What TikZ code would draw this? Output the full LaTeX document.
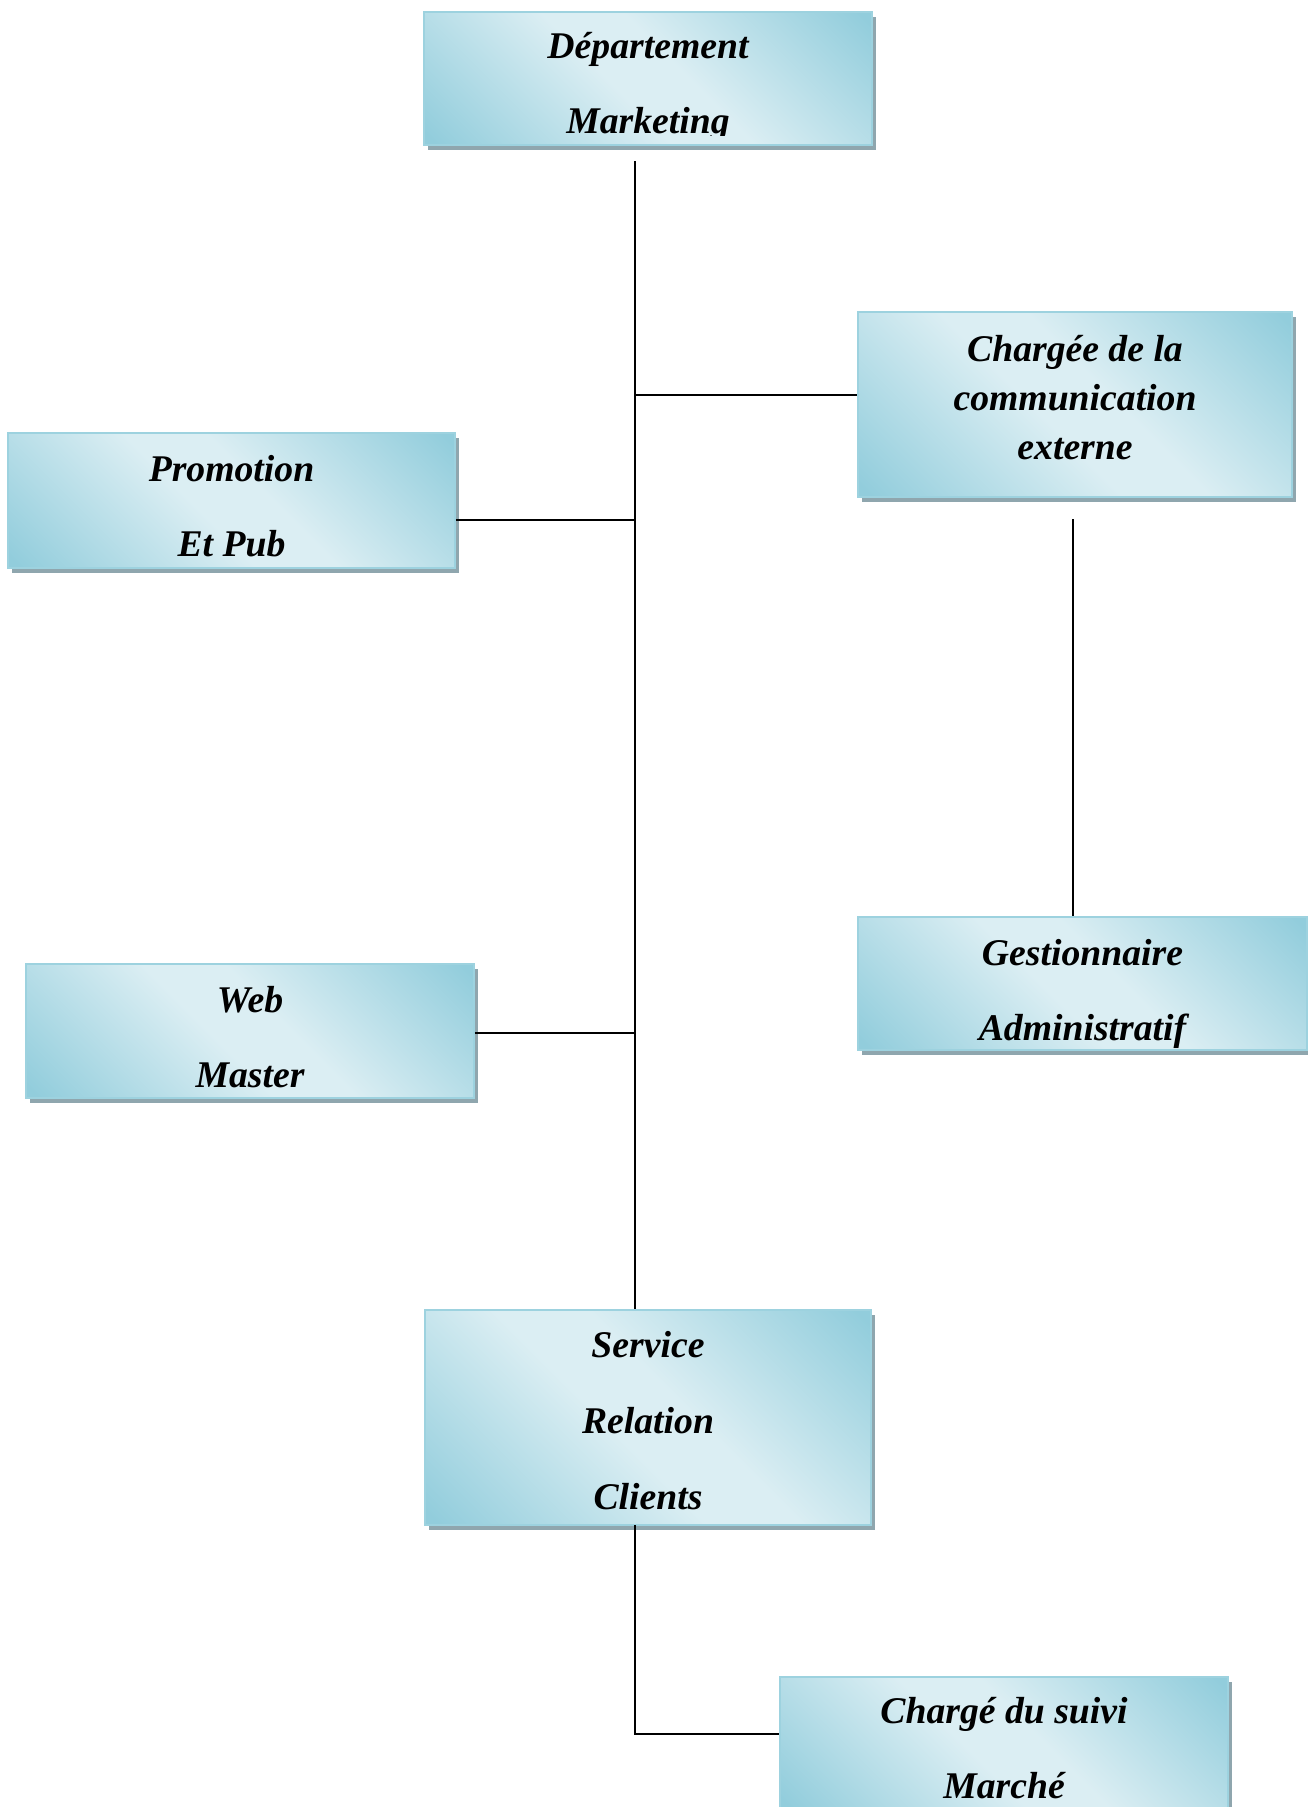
\documentclass[tikz,border=0pt]{standalone}
\usepackage{fontspec}
\setmainfont{Liberation Serif}
\usetikzlibrary{shadows}

\definecolor{aqdark}{HTML}{92CDDC}
\definecolor{aqlight}{HTML}{DBEEF3}
\definecolor{aqedge}{HTML}{9DD2DF}
\definecolor{boxshadow}{HTML}{8FA6AE}

% diagonal band: dark corners, light middle
\pgfdeclarehorizontalshading{aquaband}{100bp}{%
  color(0bp)=(aqdark); color(16bp)=(aqdark); color(45bp)=(aqlight);
  color(55bp)=(aqlight); color(84bp)=(aqdark); color(100bp)=(aqdark)}

\tikzset{
  orgbox/.style={rectangle, draw=aqedge, line width=1.5pt, inner sep=0pt,
    shading=aquaband, shading angle=45,
    drop shadow={shadow xshift=4pt, shadow yshift=-5pt, fill=boxshadow, opacity=1}},
  boxlabel/.style={align=center, inner sep=0pt,
    font=\bfseries\itshape\fontsize{37.7}{75}\selectfont},
  tightlabel/.style={boxlabel, font=\bfseries\itshape\fontsize{37.7}{49}\selectfont},
  link/.style={draw=black, line width=1.8pt}
}

\begin{document}
\begin{tikzpicture}[x=1pt, y=-1pt]
  \path[use as bounding box, clip] (0,0) rectangle (1308,1807);

  % boxes
  \node[orgbox, minimum width=448pt, minimum height=133pt] (b1) at (648,78.5) {};
  \node[orgbox, minimum width=434pt, minimum height=185pt] (b2) at (1075,404.5) {};
  \node[orgbox, minimum width=447pt, minimum height=135pt] (b3) at (231.5,500.5) {};
  \node[orgbox, minimum width=449pt, minimum height=133pt] (b4) at (1082.5,983.5) {};
  \node[orgbox, minimum width=448pt, minimum height=134pt] (b5) at (250,1031) {};
  \node[orgbox, minimum width=446pt, minimum height=215pt] (b6) at (648,1417.5) {};
  \node[orgbox, minimum width=448pt, minimum height=133pt] (b7) at (1004,1743.5) {};

  % labels
  \begin{scope}
    \clip (b1.north west) rectangle ([yshift=10.5pt]b1.south east);
    \node[boxlabel] (t1) at (648,87) {Département\\Marketing};
  \end{scope}
  \node[tightlabel] (t2) at (1075,398) {Chargée de la\\communication\\externe};
  \node[boxlabel] (t3) at (231.5,506.5) {Promotion\\Et Pub};
  \node[boxlabel] (t4) at (1082.5,994) {Gestionnaire\\Administratif};
  \node[boxlabel] (t5) at (250,1037.5) {Web\\Master};
  \node[boxlabel, font=\bfseries\itshape\fontsize{37.7}{76}\selectfont] (t6) at (648,1421) {Service\\Relation\\Clients};
  \node[boxlabel] (t7) at (1004,1748) {Chargé du suivi\\Marché};

  % connector anchor points
  \coordinate (spineTop) at (635,161);
  \coordinate (j2) at (635,395);
  \coordinate (j3) at (635,520);
  \coordinate (j5) at (635,1033);
  \coordinate (g2) at (1073,519);
  \coordinate (s6) at (635,1525);
  \coordinate (k7) at (635,1734);

  % connectors
  \draw[link] (spineTop) -- (spineTop |- b6.north);
  \draw[link] (j2) -- (j2 -| b2.west);
  \draw[link] (b3.east |- j3) -- (j3);
  \draw[link] (b5.east |- j5) -- (j5);
  \draw[link] (g2) -- (g2 |- b4.north);
  \draw[link] (s6) -- (k7) -- (k7 -| b7.west);
\end{tikzpicture}
\end{document}
